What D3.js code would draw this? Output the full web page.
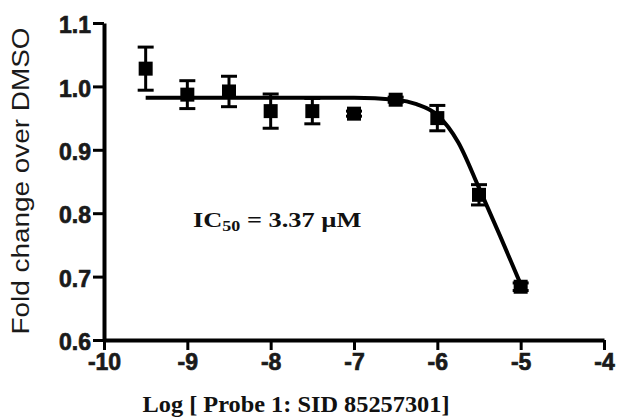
<!DOCTYPE html>
<html>
<head>
<meta charset="utf-8">
<script src="https://cdn.jsdelivr.net/npm/d3@7"></script>
<style>
  body { margin: 0; background: #fff; }
  svg { display: block; }
</style>
</head>
<body>
<script>
// log concentration of probe, mean fold change and error bar half-height
const logDose = [-9.5, -9, -8.5, -8, -7.5, -7, -6.5, -6, -5.5, -5];
const foldChange = [1.028, 0.987, 0.992, 0.961, 0.961, 0.957, 0.979, 0.950, 0.829, 0.684];
const errorBar = [0.034, 0.022, 0.024, 0.027, 0.020, 0.004, 0.004, 0.020, 0.016, 0.006];

// fitted curve
const curveX = [-9.5, -8, -7, -6.5, -6.25, -6.0, -5.75, -5.5, -5.25, -5.0];
const curveY = [0.982, 0.982, 0.982, 0.979, 0.972, 0.955, 0.912, 0.840, 0.765, 0.688];

const xTicks = [-10, -9, -8, -7, -6, -5, -4];
const yTicks = [0.6, 0.7, 0.8, 0.9, 1.0, 1.1];

const width = 617, height = 419;

const svg = d3.select("body")
    .append("svg")
    .attr("width", width)
    .attr("height", height);

const x = d3.scaleLinear().domain([-10, -4]).range([104, 604]);
const y = d3.scaleLinear().domain([0.6, 1.1]).range([340, 23]);

// axes (plain hyphen for negatives, like the original)
const xAxis = svg.append("g")
    .attr("transform", "translate(0,340)")
    .call(d3.axisBottom(x).tickValues(xTicks).tickFormat(function(d) { return String(d); })
        .tickSize(10).tickSizeOuter(0).tickPadding(3));

const yAxis = svg.append("g")
    .attr("transform", "translate(104,0)")
    .call(d3.axisLeft(y).tickValues(yTicks).tickFormat(d3.format(".1f"))
        .tickSize(11).tickSizeOuter(0).tickPadding(2));

[xAxis, yAxis].forEach(function(g) {
    g.attr("font-family", null).attr("font-size", null);
    g.select(".domain").attr("stroke", "#000").attr("stroke-width", 4);
    g.selectAll(".tick line").attr("stroke", "#000").attr("stroke-width", 3);
    // heavy labels: bold face plus a thin outline
    g.selectAll(".tick text")
        .attr("fill", "#1a1a1a")
        .attr("stroke", "#1a1a1a")
        .attr("stroke-width", 0.7)
        .style("font-family", "'Liberation Sans', Arial, sans-serif")
        .style("font-weight", "700")
        .style("font-size", "23px");
});
xAxis.selectAll(".tick text").attr("dy", "0.76em");
yAxis.selectAll(".tick text").attr("dy", "0.42em");

// fitted curve
const line = d3.line()
    .x(function(d) { return x(d[0]); })
    .y(function(d) { return y(d[1]); })
    .curve(d3.curveMonotoneX);

svg.append("path")
    .datum(d3.zip(curveX, curveY))
    .attr("d", line)
    .attr("fill", "none")
    .attr("stroke", "#000")
    .attr("stroke-width", 4);

// error bars and markers
const pts = svg.selectAll(".pt")
    .data(d3.range(logDose.length))
    .enter()
    .append("g")
    .attr("class", "pt");

pts.append("line")
    .attr("x1", function(i) { return x(logDose[i]); })
    .attr("x2", function(i) { return x(logDose[i]); })
    .attr("y1", function(i) { return y(foldChange[i] + errorBar[i]); })
    .attr("y2", function(i) { return y(foldChange[i] - errorBar[i]); })
    .attr("stroke", "#000")
    .attr("stroke-width", 3);

[1, -1].forEach(function(sign) {
    pts.append("line")
        .attr("x1", function(i) { return x(logDose[i]) - 8; })
        .attr("x2", function(i) { return x(logDose[i]) + 8; })
        .attr("y1", function(i) { return y(foldChange[i] + sign * errorBar[i]); })
        .attr("y2", function(i) { return y(foldChange[i] + sign * errorBar[i]); })
        .attr("stroke", "#000")
        .attr("stroke-width", 3);
});

pts.append("rect")
    .attr("x", function(i) { return x(logDose[i]) - 7; })
    .attr("y", function(i) { return y(foldChange[i]) - 7; })
    .attr("width", 14)
    .attr("height", 14)
    .attr("fill", "#000");

// titles
svg.append("text")
    .attr("x", 296)
    .attr("y", 412)
    .attr("text-anchor", "middle")
    .style("font-family", "'Liberation Serif', 'Times New Roman', serif")
    .style("font-weight", "700")
    .style("font-size", "24px")
    .attr("fill", "#111")
    .attr("textLength", 307)
    .attr("lengthAdjust", "spacingAndGlyphs")
    .text("Log [ Probe 1: SID 85257301]");

svg.append("text")
    .attr("transform", "translate(29,181) rotate(-90)")
    .attr("text-anchor", "middle")
    .style("font-family", "'Liberation Sans', Arial, sans-serif")
    .style("font-size", "23px")
    .attr("fill", "#1a1a1a")
    .attr("textLength", 307)
    .attr("lengthAdjust", "spacingAndGlyphs")
    .text("Fold change over DMSO");

// annotation, a little wider than plain Times like the original
const ic = svg.append("text")
    .attr("transform", "translate(193,227) scale(1.2,1)")
    .style("font-family", "'Liberation Serif', 'Times New Roman', serif")
    .style("font-weight", "700")
    .style("font-size", "22px")
    .attr("fill", "#111");
ic.append("tspan").text("IC");
ic.append("tspan").style("font-size", "15px").attr("dy", 4).text("50");
ic.append("tspan").attr("dy", -4).text(" = 3.37 µM");
</script>
</body>
</html>
